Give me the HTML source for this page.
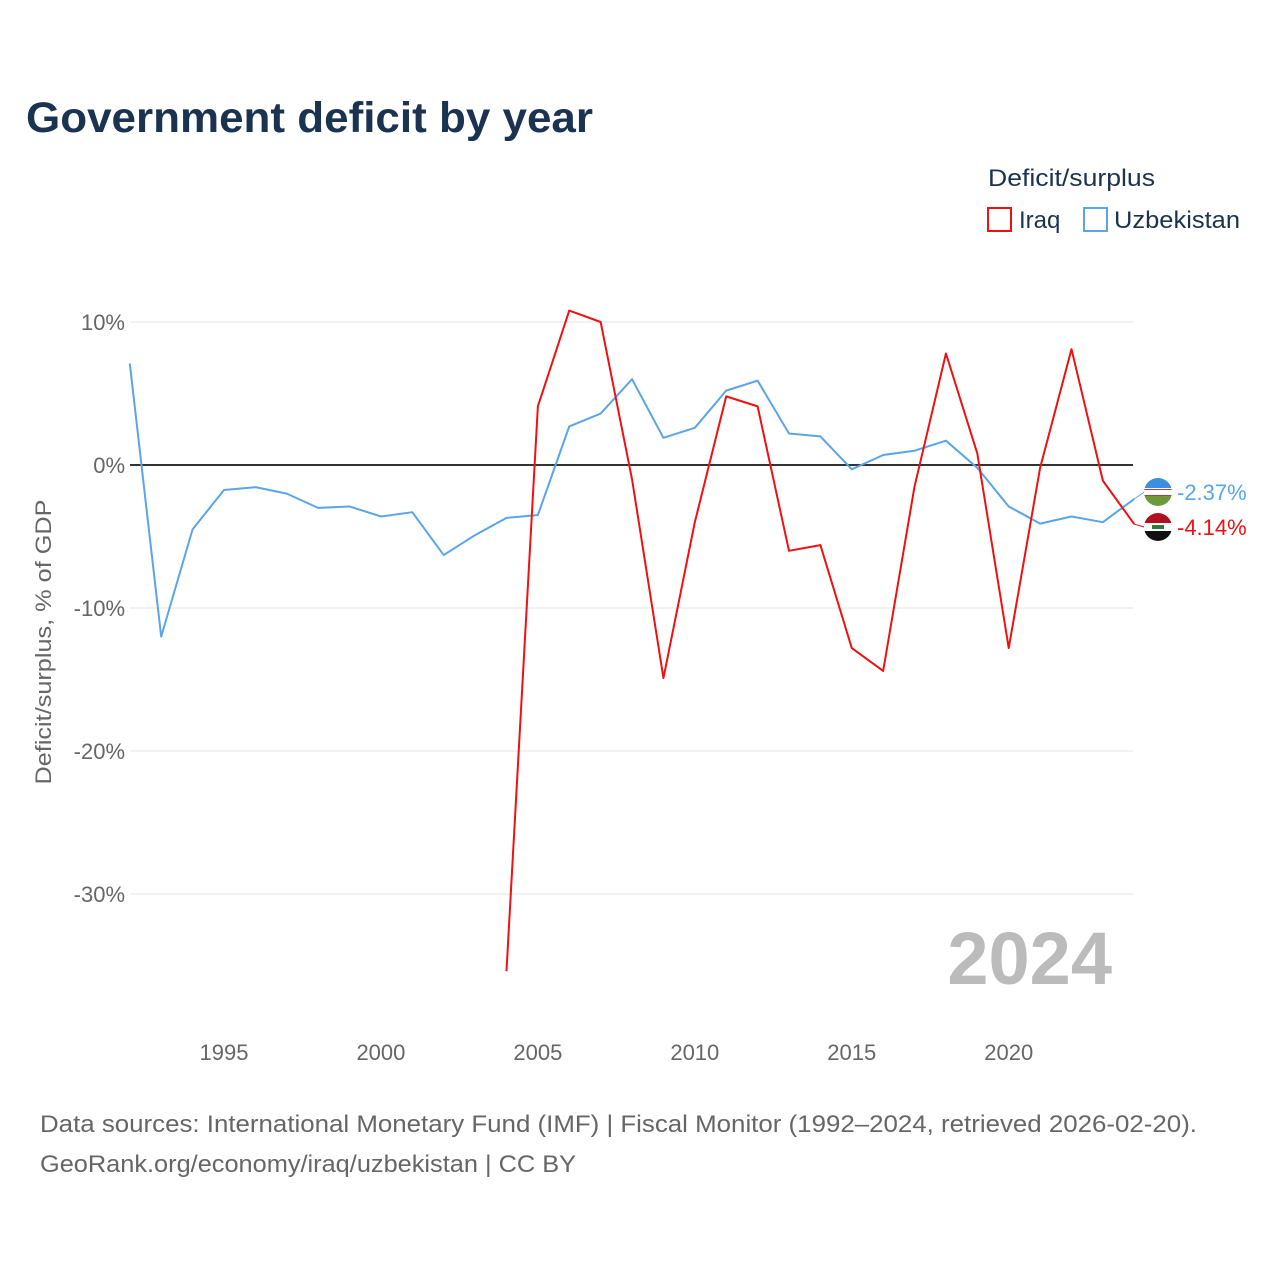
<!DOCTYPE html>
<html><head><meta charset="utf-8"><style>
body{margin:0;background:#fff;font-family:"Liberation Sans",sans-serif;}
#wrap{position:relative;width:1280px;height:1280px;}
</style></head><body>
<div id="wrap">
<svg id="svg" width="1280" height="1280" xmlns="http://www.w3.org/2000/svg" font-family="Liberation Sans, sans-serif">
<text x="26" y="132" font-size="43" font-weight="bold" fill="#1a3350" textLength="567" lengthAdjust="spacingAndGlyphs">Government deficit by year</text>
<text x="988" y="186" font-size="24" fill="#1a3350" textLength="167" lengthAdjust="spacingAndGlyphs">Deficit/surplus</text>
<g><rect x="988" y="208" width="23" height="23" fill="none" stroke="#ee1111" stroke-width="2"/><text x="1019" y="228" font-size="24" fill="#1a3350">Iraq</text></g>
<g><rect x="1084" y="208" width="23" height="23" fill="none" stroke="#5aa5ea" stroke-width="2"/><text x="1114" y="228" font-size="24" fill="#1a3350" textLength="126" lengthAdjust="spacingAndGlyphs">Uzbekistan</text></g>
<text transform="translate(51,642) rotate(-90)" text-anchor="middle" font-size="22" fill="#666" textLength="285" lengthAdjust="spacingAndGlyphs">Deficit/surplus, % of GDP</text>
<g id="grid"></g><g id="series"></g>
<text x="1112" y="984" text-anchor="end" font-size="74" font-weight="bold" fill="#bbb">2024</text>
<text x="40" y="1132" font-size="24" fill="#666" textLength="1157" lengthAdjust="spacingAndGlyphs">Data sources: International Monetary Fund (IMF) | Fiscal Monitor (1992–2024, retrieved 2026-02-20).</text>
<text x="40" y="1172" font-size="24" fill="#666" textLength="536" lengthAdjust="spacingAndGlyphs">GeoRank.org/economy/iraq/uzbekistan | CC BY</text>
</svg></div>
<script>
const yTicks=[10,0,-10,-20,-30];
const xTicks=[1995,2000,2005,2010,2015,2020];
const uzYears=[1992,1993,1994,1995,1996,1997,1998,1999,2000,2001,2002,2003,2004,2005,2006,2007,2008,2009,2010,2011,2012,2013,2014,2015,2016,2017,2018,2019,2020,2021,2022,2023,2024];
const uzValues=[7.1,-12.0,-4.5,-1.75,-1.55,-2.0,-3.0,-2.9,-3.6,-3.3,-6.3,-4.9,-3.7,-3.5,2.7,3.6,6.0,1.9,2.6,5.2,5.9,2.2,2.0,-0.3,0.7,1.0,1.7,-0.2,-2.9,-4.1,-3.6,-4.0,-2.37];
const iqYears=[2004,2005,2006,2007,2008,2009,2010,2011,2012,2013,2014,2015,2016,2017,2018,2019,2020,2021,2022,2023,2024];
const iqValues=[-35.4,4.1,10.8,10.0,-1.0,-14.9,-4.0,4.8,4.1,-6.0,-5.6,-12.8,-14.4,-1.5,7.8,0.8,-12.8,-0.2,8.1,-1.1,-4.14];
const NS='http://www.w3.org/2000/svg';
const X=y=>129.8+(y-1992)*31.39;
const Y=v=>465-v*14.3;
const grid=document.getElementById('grid'),ser=document.getElementById('series');
function mk(tag,attrs,parent){const e=document.createElementNS(NS,tag);for(const k in attrs)e.setAttribute(k,attrs[k]);parent.appendChild(e);return e;}
yTicks.forEach(t=>{
  const l=mk('line',{x1:130,x2:1133,y1:Y(t),y2:Y(t),stroke:t===0?'#333':'#e6e6e6','stroke-width':t===0?2:1},grid);
  
  
  const tx=mk('text',{x:125,y:Y(t)+8,'text-anchor':'end','font-size':22,fill:'#666'},grid);
  tx.textContent=t+'%';
  
  
});
xTicks.forEach(t=>{
  const tx=mk('text',{x:X(t),y:1060,'text-anchor':'middle','font-size':22,fill:'#666'},grid);
  tx.textContent=t;
  
  
});
function line(years,vals,color,name){
  const p=mk('polyline',{points:years.map((y,i)=>X(y)+','+Y(vals[i])).join(' '),fill:'none',stroke:color,'stroke-width':2,'stroke-linejoin':'round'},ser);
  
  
}
line(uzYears,uzValues,'#5aa5ea','uzbekistan-line');
line(iqYears,iqValues,'#ee1111','iraq-line');
function endLabel(v,color,ly,name,flag){
  const x=X(2024);
  mk('line',{x1:x,y1:Y(v),x2:x+10,y2:ly,stroke:color,'stroke-width':1},ser);
  const g=mk('g',{},ser);
  
  
  flag(g,1158,ly);
  const t=mk('text',{x:1177,y:ly+8,'font-size':22,fill:color},ser);
  t.textContent=v.toFixed(2)+'%';
  
  
}
endLabel(uzValues[uzValues.length-1],'#5aa5ea',492,'uzbekistan',(g,cx,cy)=>{
  mk('clipPath',{id:'cu'},g).appendChild(document.createElementNS(NS,'circle')).setAttribute('r',14);
  const c=g.querySelector('circle');c.setAttribute('cx',cx);c.setAttribute('cy',cy);
  const gg=mk('g',{'clip-path':'url(#cu)'},g);
  mk('rect',{x:cx-14,y:cy-14,width:28,height:10,fill:'#3a8fe0'},gg);
  mk('rect',{x:cx-14,y:cy-4,width:28,height:8,fill:'#fff'},gg);
  mk('rect',{x:cx-14,y:cy-3,width:28,height:1,fill:'#c33'},gg);
  mk('rect',{x:cx-14,y:cy+3,width:28,height:1,fill:'#c33'},gg);
  mk('rect',{x:cx-14,y:cy+4,width:28,height:10,fill:'#6a9a3a'},gg);
});
endLabel(iqValues[iqValues.length-1],'#ee1111',527,'iraq',(g,cx,cy)=>{
  mk('clipPath',{id:'ci'},g).appendChild(document.createElementNS(NS,'circle')).setAttribute('r',14);
  const c=g.querySelectorAll('circle')[0];c.setAttribute('cx',cx);c.setAttribute('cy',cy);
  const gg=mk('g',{'clip-path':'url(#ci)'},g);
  mk('rect',{x:cx-14,y:cy-14,width:28,height:10,fill:'#b01020'},gg);
  mk('rect',{x:cx-14,y:cy-4,width:28,height:8,fill:'#fff'},gg);
  mk('rect',{x:cx-6,y:cy-2,width:12,height:4,fill:'#2a7a3a'},gg);
  mk('rect',{x:cx-14,y:cy+4,width:28,height:10,fill:'#111'},gg);
});
</script>
</body></html>
